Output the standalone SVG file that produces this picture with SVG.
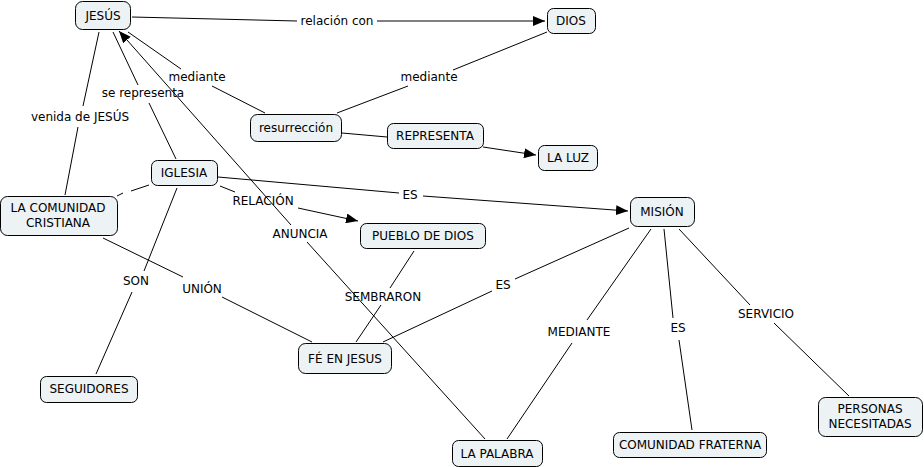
<svg xmlns="http://www.w3.org/2000/svg" width="924" height="467" viewBox="0 0 924 467">
<defs>
<marker id="arr" viewBox="0 0 12 10" refX="12" refY="5" markerWidth="12" markerHeight="10" markerUnits="userSpaceOnUse" orient="auto">
<path d="M0,0 L12,5 L0,10 z" fill="#000"/>
</marker>
<style>
.n rect{fill:#edf2f5;stroke:#000;stroke-width:1}
text{font-family:"DejaVu Sans","Verdana",sans-serif;font-size:12px;fill:#000;text-anchor:middle}
.c line{stroke:#000;stroke-width:1;fill:none}
.a{marker-end:url(#arr)}
</style>
</defs>
<rect width="924" height="467" fill="#fff"/>
<g class="c" id="connectors">
<line x1="132" y1="17" x2="297" y2="21"/>
<line class="a" x1="377" y1="21" x2="545" y2="21"/>
<line x1="128" y1="32" x2="181" y2="69"/>
<line x1="212" y1="86" x2="265" y2="113"/>
<line x1="337" y1="113" x2="408" y2="86"/>
<line x1="453" y1="70" x2="547" y2="32"/>
<line x1="342" y1="133" x2="387" y2="137"/>
<line class="a" x1="483" y1="147" x2="536" y2="155"/>
<line x1="176" y1="159" x2="149" y2="103"/>
<line x1="113" y1="32" x2="138" y2="85"/>
<line x1="65" y1="195" x2="78" y2="127"/>
<line x1="83" y1="106" x2="99" y2="32"/>
<line x1="149" y1="185" x2="131" y2="191"/>
<line x1="123" y1="193" x2="117" y2="196"/>
<line x1="220" y1="186" x2="235" y2="192"/>
<line class="a" x1="298" y1="208" x2="358" y2="221"/>
<line x1="218" y1="177" x2="399" y2="193"/>
<line class="a" x1="423" y1="196" x2="628" y2="211"/>
<line x1="177" y1="188" x2="144" y2="271"/>
<line x1="132" y1="292" x2="96" y2="374"/>
<line x1="103" y1="238" x2="183" y2="277"/>
<line x1="222" y1="297" x2="312" y2="342"/>
<line class="a" x1="291" y1="225" x2="119" y2="31"/>
<line x1="307" y1="242" x2="485" y2="439"/>
<line x1="414" y1="251" x2="390" y2="288"/>
<line x1="381" y1="305" x2="356" y2="342"/>
<line x1="383" y1="342" x2="492" y2="291"/>
<line x1="515" y1="279" x2="629" y2="228"/>
<line x1="651" y1="229" x2="587" y2="320"/>
<line x1="572" y1="343" x2="507" y2="439"/>
<line x1="664" y1="229" x2="673" y2="318"/>
<line x1="679" y1="340" x2="692" y2="430"/>
<line x1="679" y1="229" x2="750" y2="305"/>
<line x1="774" y1="323" x2="849" y2="396"/>
</g>
<g id="labels">
<text x="337" y="25">relación con</text>
<text x="197" y="81">mediante</text>
<text x="429" y="81">mediante</text>
<text x="143" y="97">se representa</text>
<text x="80" y="121">venida de JESÚS</text>
<text x="410" y="199">ES</text>
<text x="263" y="205">RELACIÓN</text>
<text x="300" y="238">ANUNCIA</text>
<text x="136" y="285">SON</text>
<text x="202" y="293">UNIÓN</text>
<text x="383" y="301">SEMBRARON</text>
<text x="503" y="289">ES</text>
<text x="579" y="336">MEDIANTE</text>
<text x="678" y="332">ES</text>
<text x="766" y="318">SERVICIO</text>
</g>
<g class="n" id="n-jesus"><rect x="75.500" y="1.500" width="55" height="28" rx="7"/><text x="103" y="20">JESÚS</text></g>
<g class="n" id="n-dios"><rect x="547.500" y="8.500" width="48" height="25" rx="6"/><text x="571" y="25">DIOS</text></g>
<g class="n" id="n-resurreccion"><rect x="250.500" y="114.500" width="91" height="27" rx="7"/><text x="296" y="132">resurrección</text></g>
<g class="n" id="n-representa"><rect x="387.500" y="123.500" width="96" height="25" rx="6"/><text x="435" y="140">REPRESENTA</text></g>
<g class="n" id="n-laluz"><rect x="538.500" y="145.500" width="59" height="25" rx="6"/><text x="568" y="162">LA LUZ</text></g>
<g class="n" id="n-iglesia"><rect x="151.500" y="160.500" width="66" height="25" rx="6"/><text x="184" y="177">IGLESIA</text></g>
<g class="n" id="n-comunidad"><rect x="0.500" y="196.500" width="117" height="39" rx="7"/><text x="58" y="212">LA COMUNIDAD</text><text x="58" y="227">CRISTIANA</text></g>
<g class="n" id="n-pueblo"><rect x="360.500" y="223.500" width="125" height="25" rx="6"/><text x="423" y="240">PUEBLO DE DIOS</text></g>
<g class="n" id="n-mision"><rect x="630.500" y="197.500" width="64" height="29" rx="7"/><text x="662" y="216">MISIÓN</text></g>
<g class="n" id="n-fe"><rect x="298.500" y="343.500" width="93" height="30" rx="7"/><text x="345" y="363">FÉ EN JESUS</text></g>
<g class="n" id="n-seguidores"><rect x="40.500" y="376.500" width="97" height="26" rx="6"/><text x="89" y="393">SEGUIDORES</text></g>
<g class="n" id="n-palabra"><rect x="452.500" y="440.500" width="90" height="26" rx="6"/><text x="497" y="458">LA PALABRA</text></g>
<g class="n" id="n-fraterna"><rect x="613.500" y="432.500" width="153" height="25" rx="6"/><text x="690" y="449">COMUNIDAD FRATERNA</text></g>
<g class="n" id="n-personas"><rect x="818.500" y="397.500" width="104" height="39" rx="7"/><text x="870" y="413">PERSONAS</text><text x="870" y="428">NECESITADAS</text></g>
</svg>
